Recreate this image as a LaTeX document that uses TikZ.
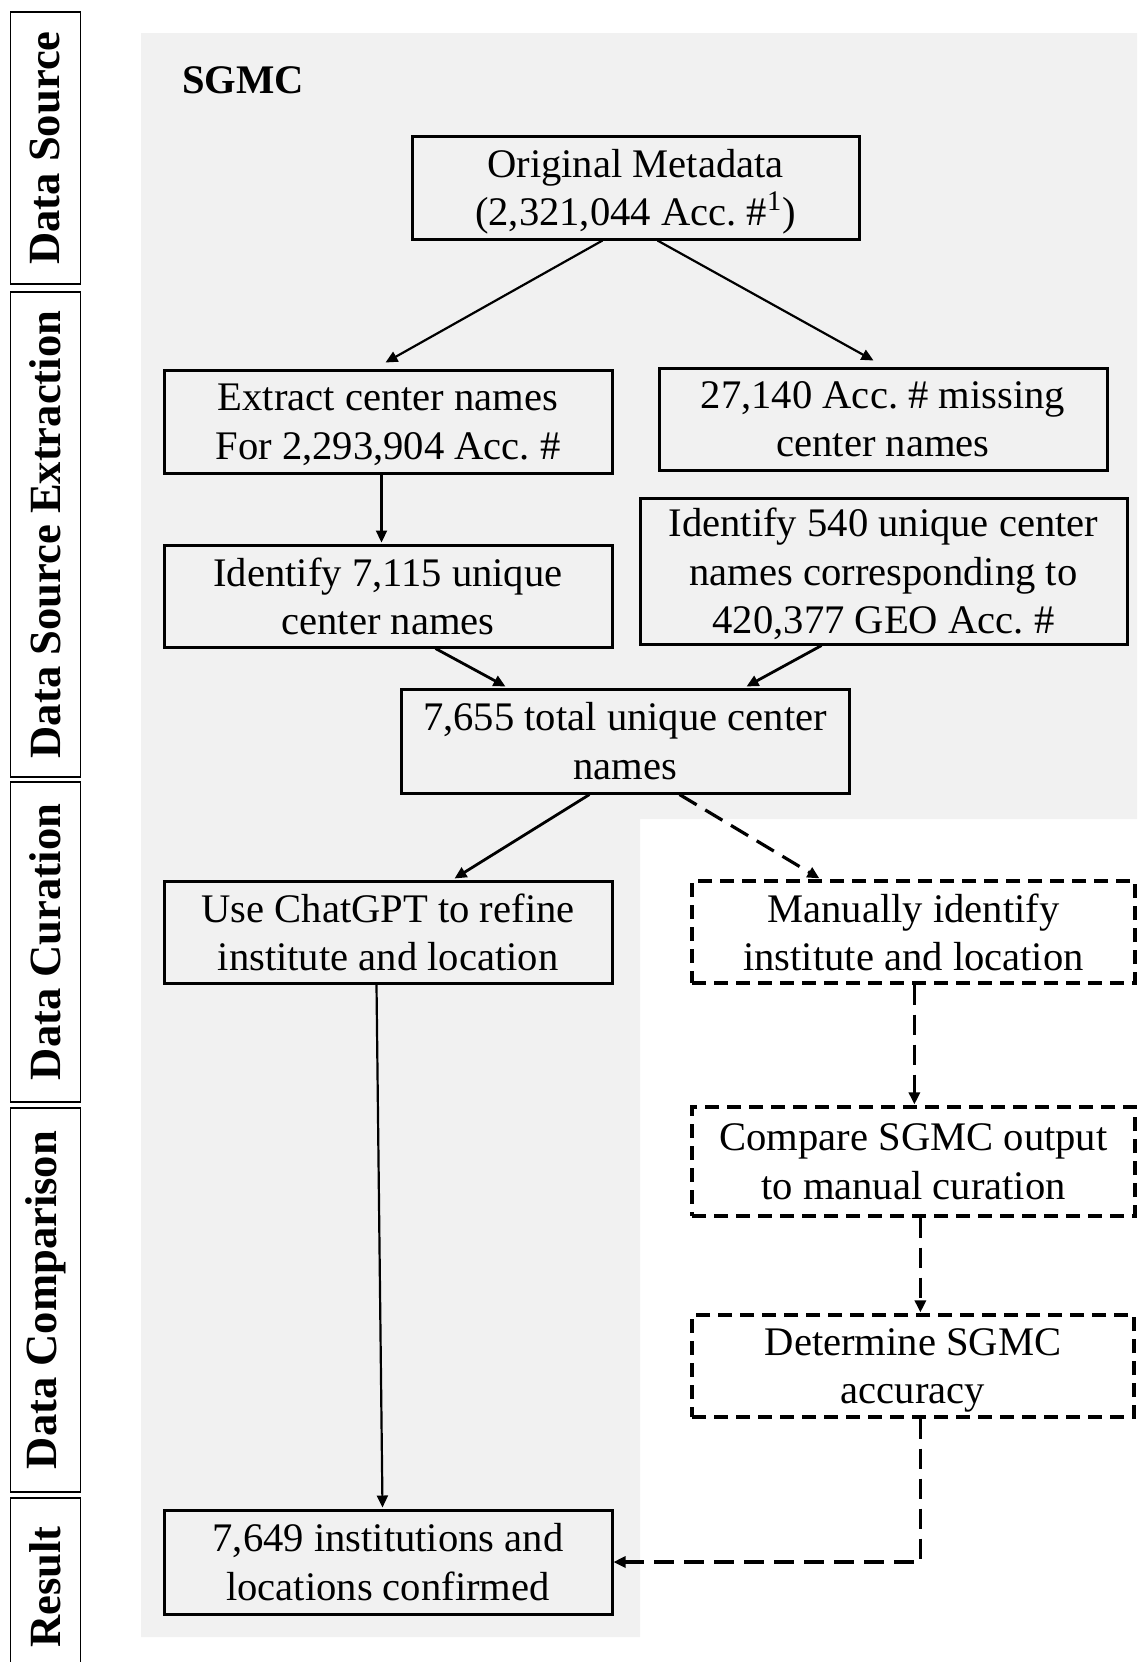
\documentclass[tikz,border=0pt]{standalone}
\usepackage{fontspec}
\setmainfont{Liberation Serif}
\usetikzlibrary{calc,arrows.meta}
\definecolor{bggray}{RGB}{241,241,241}
\begin{document}
\begin{tikzpicture}[x=0.5pt,y=-0.5pt,
  box/.style={draw,line width=1.5pt,align=center,inner sep=0pt,text depth=0pt,font=\fontsize{20.3}{24.3}\selectfont},
  dbox/.style={box,line width=1.6pt,dash pattern=on 7pt off 4pt},
  side/.style={draw,line width=0.9pt,rotate=90,inner sep=0pt,minimum height=35pt,font=\fontsize{22.3}{26}\selectfont\bfseries},
  arr/.style={line width=1.1pt,-{Triangle[length=6pt,width=5.5pt]}},
  darr/.style={arr,line width=1.6pt,dash pattern=on 10pt off 5pt}]
\useasboundingbox (0,0) rectangle (1137,1662);
\fill[bggray] (141,33) -- (1137,33) -- (1137,819) -- (640,819) -- (640,1637) -- (141,1637) -- cycle;

% side labels
\node[side,minimum width=136pt] (s1) at (45.5,148) {Data Source};
\node[side,minimum width=242.5pt] (s2) at (45.5,534.5) {Data Source Extraction};
\node[side,minimum width=160pt] (s3) at (45.5,942) {Data Curation};
\node[side,minimum width=192pt] (s4) at (45.5,1300) {Data Comparison};
\node[side,minimum width=89pt] (s5) at (45.5,1587) {Result};

\node[font=\fontsize{20.3}{24}\selectfont\bfseries,anchor=west,inner sep=0pt] (sgmc) at (182,80) {SGMC};

% boxes
\node[box,minimum width=223.5pt,minimum height=51.5pt] (orig) at (635.5,187.5) {Original Metadata\\(2,321,044 Acc.~\#\textsuperscript{1})};
\node[box,minimum width=224pt,minimum height=51.5pt] (extract) at (388,421.5) {Extract center names\\For 2,293,904 Acc.~\#};
\node[box,minimum width=224pt,minimum height=51pt] (missing) at (883,419) {27,140 Acc.~\# missing\\center names};
\node[box,minimum width=224pt,minimum height=51pt] (id7115) at (388,596) {Identify 7,115 unique\\center names};
\node[box,minimum width=243.5pt,minimum height=73pt] (id540) at (883.5,571) {Identify 540 unique center\\names corresponding to\\420,377 GEO Acc.~\#};
\node[box,minimum width=224pt,minimum height=52pt] (total) at (625,741) {7,655 total unique center\\names};
\node[box,minimum width=224pt,minimum height=51pt] (chatgpt) at (388,932) {Use ChatGPT to refine\\institute and location};
\node[dbox,minimum width=221.5pt,minimum height=51pt] (manual) at (913.5,932) {Manually identify\\institute and location};
\node[dbox,minimum width=221.5pt,minimum height=54.5pt] (compare) at (913.5,1161.5) {Compare SGMC output\\to manual curation};
\node[dbox,minimum width=221pt,minimum height=51pt] (determine) at (913,1366) {Determine SGMC\\accuracy};
\node[box,minimum width=224pt,minimum height=52pt] (result) at (388,1562) {7,649 institutions and\\locations confirmed};

% connectors
\draw[arr] ($(orig.south west)+(192,0)$) -- ($(extract.north west)+(223,-6)$);
\draw[arr] ($(orig.south west)+(247,0)$) -- ($(missing.north west)+(216,-6)$);
\draw[arr] ($(extract.south west)+(219,0)$) -- ($(id7115.north west)+(219,-1)$);
\draw[arr,line width=1.4pt] ($(id7115.south west)+(273,0)$) -- ($(total.north west)+(106,-1)$);
\draw[arr,line width=1.4pt] ($(id540.south west)+(183,0)$) -- ($(total.north west)+(347,-1)$);
\draw[arr,line width=1.4pt] ($(total.south west)+(190,0)$) -- ($(chatgpt.north west)+(292,-1)$);
\draw[darr] ($(total.south west)+(280,0)$) -- ($(manual.north west)+(129,-1)$);
\draw[arr] ($(chatgpt.south west)+(214,0)$) -- ($(result.north west)+(220,-1)$);
\draw[darr] ($(manual.south west)+(224,0)$) -- ($(compare.north west)+(224,-1)$);
\draw[darr] ($(compare.south west)+(230,0)$) -- ($(determine.north west)+(230,-1)$);
\draw[darr] ($(determine.south west)+(230,0)$) |- (result.east);
\end{tikzpicture}
\end{document}
